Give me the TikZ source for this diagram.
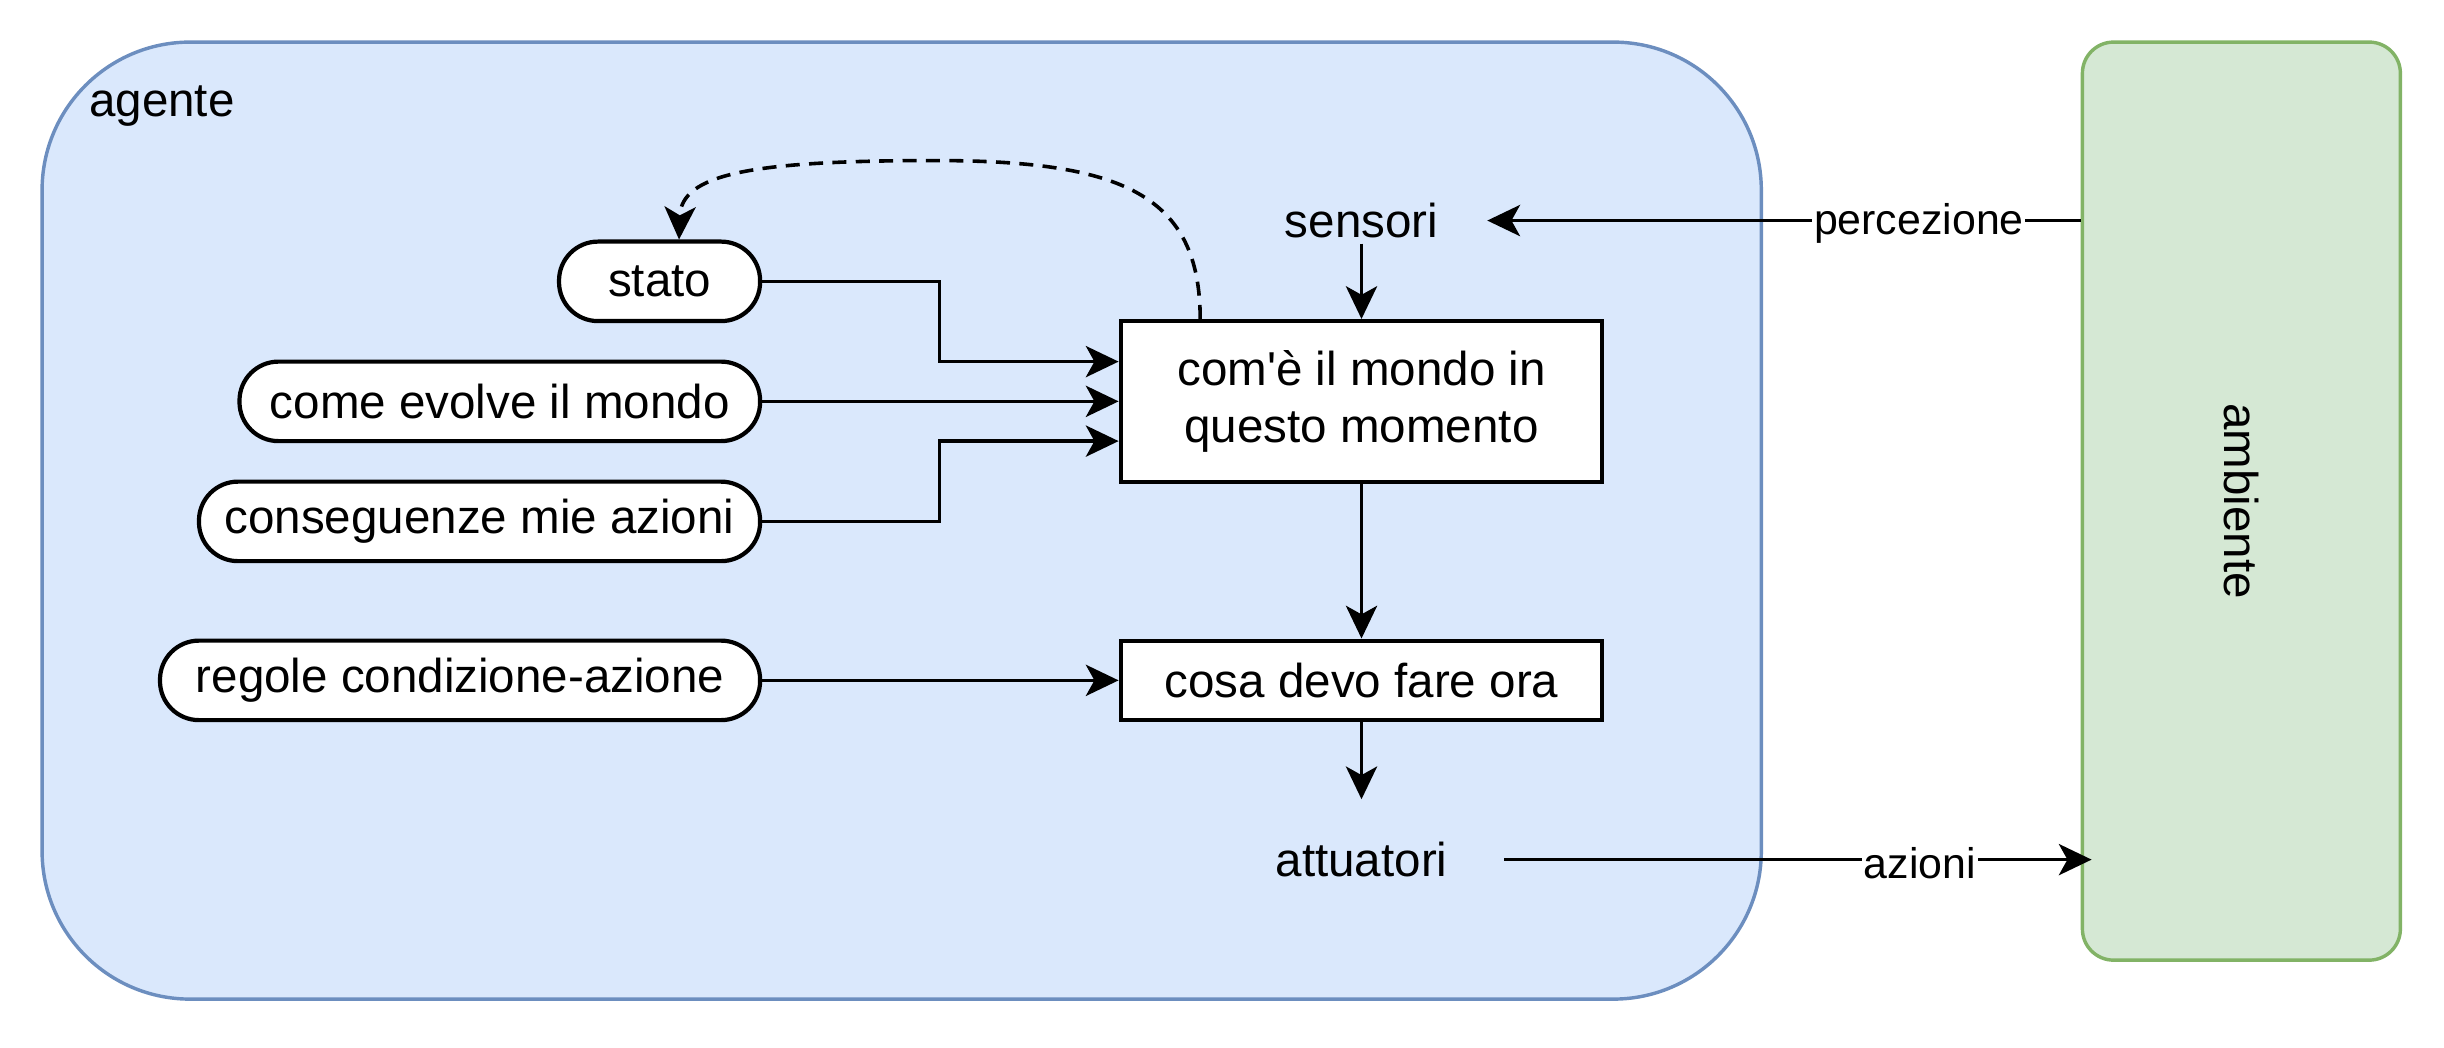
\documentclass[tikz,border=0pt]{standalone}
\usepackage{fontspec}
\setmainfont{Liberation Sans}
\usetikzlibrary{arrows.meta}

\definecolor{agentfill}{HTML}{DAE8FC}
\definecolor{agentline}{HTML}{6C8EBF}
\definecolor{envfill}{HTML}{D5E8D4}
\definecolor{envline}{HTML}{82B366}

\tikzset{
  agentbox/.style={draw=agentline,fill=agentfill,line width=2.2pt,rounded corners=95pt},
  envbox/.style={draw=envline,fill=envfill,line width=2.2pt,rounded corners=20pt},
  pill/.style={draw,fill=white,line width=2.7pt,rounded corners=25pt,minimum height=51pt,anchor=east},
  procbox/.style={draw,fill=white,line width=2.7pt,minimum width=309pt,align=center},
  conn/.style={->,line width=2.3pt},
  lbl/.style={fill=white,inner sep=1pt,yshift=-2pt,font=\fontsize{27.5}{33}\selectfont},
}

\begin{document}
\begin{tikzpicture}[x=1pt,y=-1pt,>={Stealth[length=21pt,width=20pt,inset=5.5pt]},
  every node/.style={font=\fontsize{30.5}{36.6}\selectfont}]
  \useasboundingbox (0,0) rectangle (1568,672);
  % agente e ambiente
  \node[agentbox,minimum width=1103pt,minimum height=614pt] (agent) at (578.5,334) {};
  \node[envbox,minimum width=204pt,minimum height=589pt] (amb) at (1438,321.5) {\rotatebox{-90}{ambiente}};
  \node[anchor=west,inner sep=0pt] (agentlbl) at (57,68) {agente};

  % blocchi interni
  \node (sensori) at (873.5,141.5) {sensori};
  \node[procbox,minimum height=103pt] (mondo) at (873.5,257.5) {com\textquotesingle è il mondo in\\questo momento};
  \node[procbox,minimum height=51pt] (fare) at (873.5,436.5) {cosa devo fare ora};
  \node (attuatori) at (873.5,551.5) {attuatori};

  \node[pill,minimum width=129pt] (stato) at (489,180.5) {stato};
  \node[pill,minimum width=334pt] (evolve) at (489,257.5) {come evolve il mondo};
  \node[pill,minimum width=360pt] (conseg) at (489,334.5) {conseguenze mie azioni};
  \node[pill,minimum width=385pt] (regole) at (489,436.5) {regole condizione-azione};

  % connettori
  \draw[conn] (stato.east) -| ([xshift=-115pt,yshift=25.5pt]mondo.west) -- ([yshift=25.5pt]mondo.west);
  \draw[conn] (evolve.east) -- (mondo.west);
  \draw[conn] (conseg.east) -| ([xshift=-115pt,yshift=-25.5pt]mondo.west) -- ([yshift=-25.5pt]mondo.west);
  \draw[conn] (regole.east) -- (fare.west);
  \draw[conn] (sensori.south) -- (mondo.north);
  \draw[conn] (mondo.south) -- (fare.north);
  \draw[conn,shorten >=24pt] (fare.south) -- (attuatori.north);
  \draw[conn,shorten >=28pt] (amb.west |- sensori) -- node[lbl,pos=0.254] {percezione} (sensori.east);
  \draw[conn,shorten <=33pt,shorten >=-7pt] (attuatori.east) -- node[lbl,pos=0.744] {azioni} (amb.west |- attuatori);
  \draw[conn,dashed,dash pattern=on 9pt off 6pt] ([xshift=-103.5pt]mondo.north)
    .. controls (770,125) and (720,103) .. (600,103)
    .. controls (480,103) and (437,112) .. ([xshift=12.5pt]stato.north);
\end{tikzpicture}
\end{document}
